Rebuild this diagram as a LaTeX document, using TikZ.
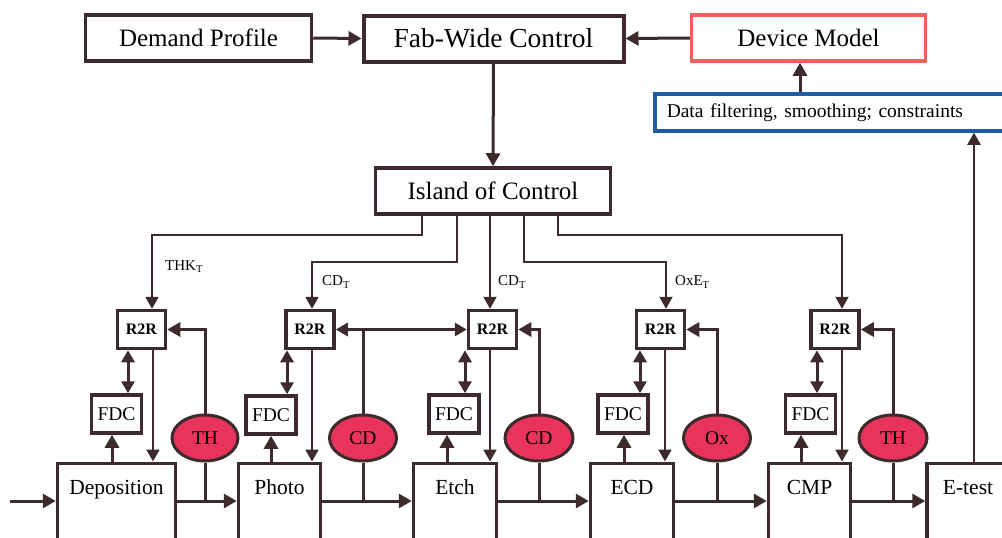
\documentclass[tikz,border=0pt]{standalone}
\usepackage{fontspec}
\setmainfont{Liberation Serif}
\usetikzlibrary{arrows.meta, shapes.geometric, positioning}

\definecolor{linec}{RGB}{60,42,44}
\definecolor{modelred}{RGB}{238,98,92}
\definecolor{filterblue}{RGB}{32,92,166}
\definecolor{measred}{RGB}{232,52,90}

\begin{document}
\begin{tikzpicture}[x=1pt, y=-1pt,
  every node/.style={inner sep=0pt, text=black},
  box/.style={rectangle, draw=linec, line width=3.5pt, fill=white},
  link/.style={draw=linec, line width=3pt, -{Triangle[length=13pt,width=14pt]}},
  twoway/.style={draw=linec, line width=3pt, {Triangle[length=12pt,width=13pt]}-{Triangle[length=12pt,width=13pt]}},
  thinlink/.style={draw=linec, line width=2.2pt, -{Triangle[length=12pt,width=13pt]}},
  wire/.style={draw=linec, line width=3pt}
]
\clip (0,0) rectangle (1002,538);

% Node styles
\tikzset{
  r2r/.style={box, minimum width=48, minimum height=38,
    font=\bfseries\fontsize{16}{18}\selectfont},
  fdc/.style={box, minimum width=50, minimum height=38,
    font=\fontsize{19.5}{22}\selectfont},
  proc/.style={box, anchor=north, text height=31, text depth=110,
    font=\fontsize{21.5}{24}\selectfont},
  meas/.style={ellipse, draw=linec, line width=3pt, fill=measred,
    minimum height=46, font=\fontsize{19.5}{22}\selectfont},
  tag/.style={anchor=west, font=\fontsize{15}{17}\selectfont}
}

% ---- Top level ----
\node[box, minimum width=226, minimum height=46, font=\fontsize{25}{30}\selectfont]
  (demand) at (198.5,38) {Demand Profile};
\node[box, line width=4pt, minimum width=260, minimum height=46, font=\fontsize{27.5}{32}\selectfont]
  (fab) at (493.5,38.5) {Fab-Wide Control};
\node[box, draw=modelred, minimum width=234, minimum height=46, font=\fontsize{25}{30}\selectfont]
  (device) at (808.5,38) {Device Model};
\node[box, draw=filterblue, anchor=west, minimum height=37, text width=376, inner xsep=12,
  align=left, font=\fontsize{19.5}{22}\selectfont]
  (filter) at (653,112.5) {Data filtering, smoothing; constraints};
\node[box, minimum width=235, minimum height=46, font=\fontsize{25}{30}\selectfont]
  (island) at (493,191) {Island of Control};

% ---- Run-to-run controllers ----
\node[r2r] (r1) at (141.5,329.5) {R2R};
\node[r2r] (r2) at (310,329.5) {R2R};
\node[r2r] (r3) at (492.5,329.5) {R2R};
\node[r2r] (r4) at (660.5,329.5) {R2R};
\node[r2r] (r5) at (835,329.5) {R2R};

\node[fdc] (f1) at (116.5,414) {FDC};
\node[fdc] (f2) at (271,415) {FDC};
\node[fdc] (f3) at (454,414) {FDC};
\node[fdc] (f4) at (623,414) {FDC};
\node[fdc] (f5) at (810.5,414) {FDC};

% ---- Process steps ----
\node[proc, minimum width=118] (dep) at (116.5,461.5) {Deposition};
\node[proc, minimum width=82] (photo) at (279.5,461.5) {Photo};
\node[proc, minimum width=83] (etch) at (455,461.5) {Etch};
\node[proc, minimum width=83] (ecd) at (632,461.5) {ECD};
\node[proc, minimum width=82] (cmp) at (809.5,461.5) {CMP};
\node[proc, minimum width=82] (etest) at (968,461.5) {E-test};

% ---- Metrology ----
\node[meas, minimum width=66] (e1) at (205,438) {TH};
\node[meas, minimum width=67] (e2) at (363,438) {CD};
\node[meas, minimum width=68] (e3) at (539,438) {CD};
\node[meas, minimum width=67] (e4) at (717,438) {Ox};
\node[meas, minimum width=68] (e5) at (893,438) {TH};

% Target labels
\node[tag] (thk) at (165,267) {THK\textsubscript{T}};
\node[tag] (cd1) at (322,282) {CD\textsubscript{T}};
\node[tag] (cd2) at (498,282) {CD\textsubscript{T}};
\node[tag] (oxe) at (675,282) {OxE\textsubscript{T}};

\coordinate (flow) at (0,501);
\coordinate (in) at (10,501);

% ---- Edges ----
\draw[link] (demand.east) -- (fab.west);
\draw[link] (device.west) -- (fab.east);
\draw[link] (fab.south) -- (island.north);
\draw[link] (filter.north -| 800,0) -- (device.south -| 800,0);
\draw[thinlink] (etest.north -| 974,0) -- (filter.south -| 974,0);

\draw[thinlink] (island.south -| 422,0) |- (152,235) -- (r1.north -| 152,0);
\draw[thinlink] (island.south -| 457,0) |- (312,262) -- (r2.north -| 312,0);
\draw[thinlink] (island.south -| 490,0) -- (r3.north -| 490,0);
\draw[thinlink] (island.south -| 524,0) |- (666,262) -- (r4.north -| 666,0);
\draw[thinlink] (island.south -| 558,0) |- (842,235) -- (r5.north -| 842,0);

\draw[twoway] (r1.south -| 128,0) -- (f1.north -| 128,0);
\draw[twoway] (r2.south -| 287,0) -- (f2.north -| 287,0);
\draw[twoway] (r3.south -| 465,0) -- (f3.north -| 465,0);
\draw[twoway] (r4.south -| 640,0) -- (f4.north -| 640,0);
\draw[twoway] (r5.south -| 817,0) -- (f5.north -| 817,0);

\draw[thinlink] (r1.south -| 153,0) -- (dep.north -| 153,0);
\draw[thinlink] (r2.south -| 312,0) -- (photo.north -| 312,0);
\draw[thinlink] (r3.south -| 490,0) -- (etch.north -| 490,0);
\draw[thinlink] (r4.south -| 665,0) -- (ecd.north -| 665,0);
\draw[thinlink] (r5.south -| 842,0) -- (cmp.north -| 842,0);

\draw[link] (dep.north -| 112,0) -- (f1.south -| 112,0);
\draw[link] (photo.north -| 271,0) -- (f2.south -| 271,0);
\draw[link] (etch.north -| 447,0) -- (f3.south -| 447,0);
\draw[link] (ecd.north -| 624,0) -- (f4.south -| 624,0);
\draw[link] (cmp.north -| 801,0) -- (f5.south -| 801,0);

\draw[link] (in) -- (dep.west |- flow);
\draw[link] (dep.east |- flow) -- (photo.west |- flow);
\draw[link] (photo.east |- flow) -- (etch.west |- flow);
\draw[link] (etch.east |- flow) -- (ecd.west |- flow);
\draw[link] (ecd.east |- flow) -- (cmp.west |- flow);
\draw[link] (cmp.east |- flow) -- (etest.west |- flow);

\draw[wire] (e1.south) -- (e1.south |- flow);
\draw[wire] (e2.south) -- (e2.south |- flow);
\draw[wire] (e3.south) -- (e3.south |- flow);
\draw[wire] (e4.south) -- (e4.south |- flow);
\draw[wire] (e5.south) -- (e5.south |- flow);

\draw[link] (e1.north) |- (r1.east);
\draw[wire] (e2.north) -- (e2.north |- r2.east);
\draw[twoway] (r2.east) -- (r3.west);
\draw[link] (e3.north) |- (r3.east);
\draw[link] (e4.north) |- (r4.east);
\draw[link] (e5.north) |- (r5.east);

\end{tikzpicture}
\end{document}
